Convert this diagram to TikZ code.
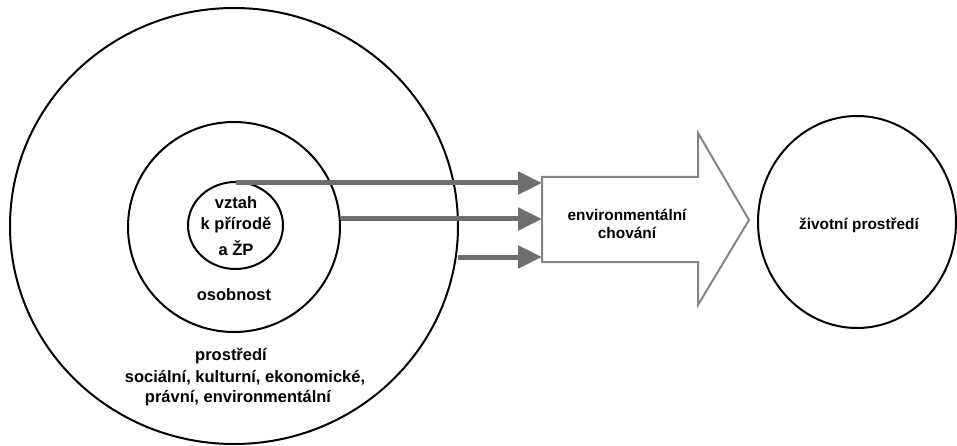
\documentclass[tikz,border=0pt]{standalone}
\usepackage{fontspec}
\setmainfont{Liberation Sans}
\usetikzlibrary{shapes.geometric,arrows.meta}
\definecolor{arrowgray}{HTML}{6E6E6E}
\definecolor{outlinegray}{HTML}{858585}
\tikzset{
  ring/.style={ellipse, draw=black, line width=2pt, inner sep=0pt},
  lbl/.style={font=\bfseries\fontsize{16.5}{21}\selectfont, align=center, inner sep=0pt},
  lblsmall/.style={font=\bfseries\fontsize{15.4}{18.5}\selectfont, align=center, inner sep=0pt},
  feed/.style={draw=arrowgray, line width=5pt, -{Triangle[length=24pt,width=22pt]}, shorten >=0pt},
  bigarrow/.style={draw=outlinegray, line width=2pt, fill=white, line join=miter}
}
\begin{document}
\begin{tikzpicture}[x=1pt,y=-1pt]
\useasboundingbox (0,0) rectangle (957,446);
% circles
\node[ring, minimum width=448pt, minimum height=436pt] (outer) at (234,226) {};
\node[ring, minimum width=212pt, minimum height=210pt] (mid) at (234,227) {};
\node[ring, minimum width=95pt, minimum height=87pt] (inner) at (235.5,225.5) {};
\node[ring, minimum width=198pt, minimum height=212pt] (env) at (857,222) {};
% big arrow
\draw[bigarrow] (542,177) -- (698,177) -- (698,133) -- (749,220) -- (698,305) -- (698,262) -- (542,262) -- cycle;
\coordinate (t1) at (542,183);
\coordinate (t2) at (542,219);
\coordinate (t3) at (542,257);
\coordinate (s1) at (inner.north);
\coordinate (s2) at (mid.east |- t2);
\coordinate (s3) at (outer.east |- t3);
% feed arrows
\draw[feed] (s1 |- t1) -- (t1);
\draw[feed] (s2) -- (t2);
\draw[feed] ([xshift=-1pt]s3) -- (t3);
% labels
\node[lbl] (l1) at (236,203) {vztah};
\node[lbl] (l2) at (236,225) {k přírodě};
\node[lbl] (l3) at (236,248) {a ŽP};
\node[lbl] (l4) at (234,295) {osobnost};
\node[lbl] (l5) at (231,356) {prostředí};
\node[lbl] (l6) at (245,378) {sociální, kulturní, ekonomické,};
\node[lbl] (l7) at (238,398) {právní, environmentální};
\node[lblsmall] (l8) at (627,224) {environmentální\\chování};
\node[lblsmall] (l9) at (859,225) {životní prostředí};
\end{tikzpicture}
\end{document}
